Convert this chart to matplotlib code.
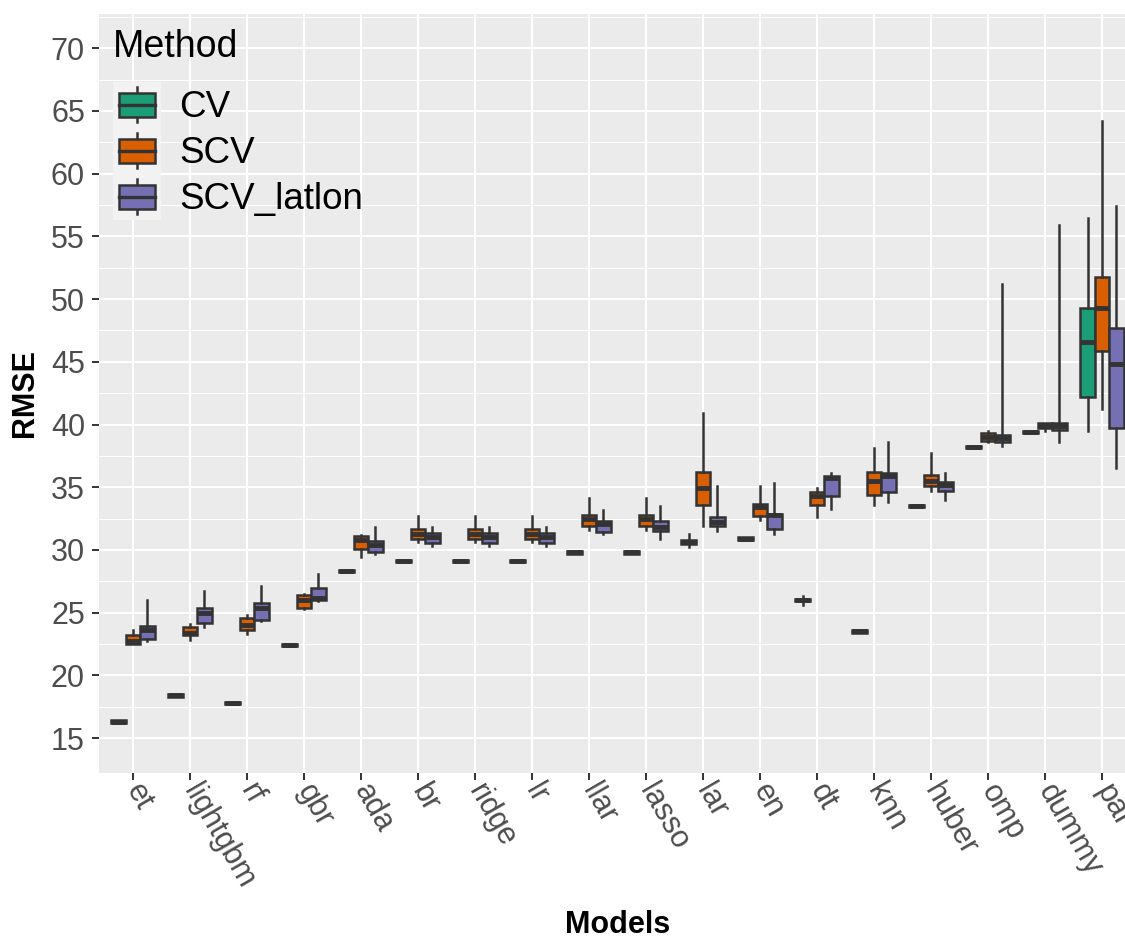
import numpy as np
import matplotlib
matplotlib.use("Agg")
import matplotlib.pyplot as plt
from matplotlib.patches import Rectangle
from matplotlib.lines import Line2D
from matplotlib.legend_handler import HandlerBase

plt.rcParams['font.family'] = ['Liberation Sans', 'DejaVu Sans']

models = ['et', 'lightgbm', 'rf', 'gbr', 'ada', 'br', 'ridge', 'lr', 'llar',
          'lasso', 'lar', 'en', 'dt', 'knn', 'huber', 'omp', 'dummy', 'par']
methods = ['CV', 'SCV', 'SCV_latlon']
colors = ['#1B9E77', '#D95F02', '#7570B3']

# (whisker low, q1, median, q3, whisker high) per model
cv = [(16.2, 16.2, 16.3, 16.4, 16.4), (18.3, 18.3, 18.4, 18.5, 18.5),
      (17.7, 17.7, 17.8, 17.9, 17.9), (22.3, 22.3, 22.4, 22.5, 22.5),
      (28.2, 28.2, 28.3, 28.4, 28.4), (29.0, 29.0, 29.1, 29.2, 29.2),
      (29.0, 29.0, 29.1, 29.2, 29.2), (29.0, 29.0, 29.1, 29.2, 29.2),
      (29.7, 29.7, 29.8, 29.9, 29.9), (29.7, 29.7, 29.8, 29.9, 29.9),
      (30.2, 30.45, 30.6, 30.8, 31.3), (30.8, 30.8, 30.9, 31.0, 31.0),
      (25.6, 25.9, 26.0, 26.1, 26.3), (23.4, 23.4, 23.5, 23.6, 23.6),
      (33.4, 33.4, 33.5, 33.6, 33.6), (38.1, 38.1, 38.2, 38.3, 38.3),
      (39.3, 39.3, 39.4, 39.5, 39.5), (39.5, 42.2, 46.6, 49.3, 56.5)]
scv = [(22.5, 22.5, 22.7, 23.2, 23.6), (22.8, 23.2, 23.4, 23.85, 24.1),
       (23.3, 23.6, 24.0, 24.55, 24.8), (25.3, 25.4, 26.0, 26.4, 26.5),
       (29.4, 30.1, 30.8, 31.1, 31.2), (30.6, 30.9, 31.3, 31.65, 32.7),
       (30.6, 30.9, 31.3, 31.65, 32.7), (30.6, 30.9, 31.3, 31.65, 32.7),
       (31.6, 31.9, 32.5, 32.8, 34.1), (31.6, 31.9, 32.5, 32.8, 34.1),
       (31.9, 33.6, 34.9, 36.2, 40.9), (32.4, 32.7, 33.4, 33.7, 35.1),
       (32.6, 33.6, 34.3, 34.6, 34.9), (33.6, 34.4, 35.5, 36.2, 38.1),
       (34.7, 35.1, 35.5, 36.0, 37.7), (38.6, 38.7, 39.0, 39.3, 39.5),
       (39.5, 39.7, 39.9, 40.1, 40.1), (41.2, 45.9, 49.3, 51.8, 64.2)]
scv_latlon = [(22.7, 22.9, 23.6, 23.9, 26.0), (23.85, 24.2, 25.0, 25.35, 26.7),
              (24.3, 24.4, 25.4, 25.75, 27.1), (25.9, 26.0, 26.2, 27.0, 28.1),
              (29.7, 29.8, 30.4, 30.7, 31.8), (30.3, 30.55, 31.0, 31.35, 31.8),
              (30.3, 30.55, 31.0, 31.35, 31.8), (30.3, 30.55, 31.0, 31.35, 31.8),
              (31.3, 31.4, 32.1, 32.3, 33.2), (30.9, 31.5, 31.8, 32.3, 33.5),
              (31.5, 31.9, 32.2, 32.6, 35.1), (31.3, 31.7, 32.8, 32.9, 35.3),
              (33.3, 34.3, 35.7, 35.9, 36.1), (33.8, 34.6, 35.9, 36.1, 38.6),
              (34.0, 34.7, 35.2, 35.4, 36.1), (38.3, 38.6, 38.9, 39.2, 51.2),
              (38.6, 39.6, 39.9, 40.1, 55.9), (36.5, 39.7, 44.8, 47.7, 57.4)]

edge = '#333333'


class BoxKey(HandlerBase):
    def create_artists(self, legend, orig_handle, xdescent, ydescent,
                       width, height, fontsize, trans):
        x0, y0 = -xdescent, -ydescent
        bg = Rectangle((x0, y0), width, height, facecolor='#F2F2F2',
                       edgecolor='none', transform=trans)
        cx = x0 + width / 2
        wh = Line2D([cx, cx], [y0 + 0.12 * height, y0 + 0.88 * height],
                    color=edge, lw=1.8, transform=trans)
        box = Rectangle((x0 + 0.12 * width, y0 + 0.24 * height), 0.76 * width,
                        0.52 * height, facecolor=orig_handle.get_facecolor(),
                        edgecolor=edge, lw=1.8, transform=trans)
        med = Line2D([x0 + 0.12 * width, x0 + 0.88 * width],
                     [y0 + 0.5 * height, y0 + 0.5 * height],
                     color=edge, lw=2.4, transform=trans)
        return [bg, wh, box, med]


fig = plt.figure(figsize=(11.25, 9.38), dpi=100)
ax = fig.add_axes([98.8 / 1125, 1 - 772.5 / 938, 1037.4 / 1125, 758.7 / 938])
ax.set_facecolor('#EBEBEB')

x = np.arange(1, len(models) + 1)
offsets = [-0.25, 0, 0.25]
for data, col, off in zip([cv, scv, scv_latlon], colors, offsets):
    stats = [dict(whislo=d[0], q1=d[1], med=d[2], q3=d[3], whishi=d[4])
             for d in data]
    ax.bxp(stats, positions=x + off, widths=0.26, patch_artist=True,
           showfliers=False, showcaps=False,
           boxprops=dict(facecolor=col, edgecolor=edge, linewidth=1.8),
           whiskerprops=dict(color=edge, linewidth=1.8),
           medianprops=dict(color=edge, linewidth=3.5),
           manage_ticks=False, zorder=3)

ax.set_xlim(0.4, 18.6)
ax.set_ylim(12.25, 72.75)
ax.set_yticks(np.arange(15, 71, 5))
ax.set_yticks(np.arange(17.5, 72.6, 5), minor=True)
ax.set_xticks(x)
ax.set_xticklabels(models, rotation=-60, rotation_mode='anchor',
                   ha='left', va='center')
for s in ax.spines.values():
    s.set_visible(False)
ax.grid(which='major', color='white', lw=1.5, zorder=0)
ax.grid(which='minor', axis='y', color='white', lw=0.7, zorder=0)
ax.set_axisbelow(True)
ax.tick_params(axis='both', which='major', colors=edge, labelcolor='#4D4D4D',
               labelsize=22, length=5, width=1.4, pad=5)
ax.tick_params(axis='y', which='minor', length=0)

ax.set_xlabel('Models', fontsize=22, fontweight='bold')
ax.set_ylabel('RMSE', fontsize=22, fontweight='bold')
ax.xaxis.set_label_coords(0.5, (772.5 - 925) / 758.7)
ax.xaxis.label.set_va('center')
ax.yaxis.set_label_coords((25 - 98.8) / 1037.4, 0.5)
ax.yaxis.label.set_va('center')

handles = [Rectangle((0, 0), 1, 1, facecolor=c) for c in colors]
leg = ax.legend(handles, methods, title='Method', loc='upper left',
                bbox_to_anchor=(0.014, 0.98), frameon=False, fontsize=26.5,
                title_fontsize=27, alignment='left', labelspacing=0,
                handlelength=1.3, handleheight=1.55, handletextpad=0.5,
                borderpad=0, borderaxespad=0,
                handler_map={Rectangle: BoxKey()})
leg._legend_box.sep = 12

fig.savefig('out.png', dpi=100)
